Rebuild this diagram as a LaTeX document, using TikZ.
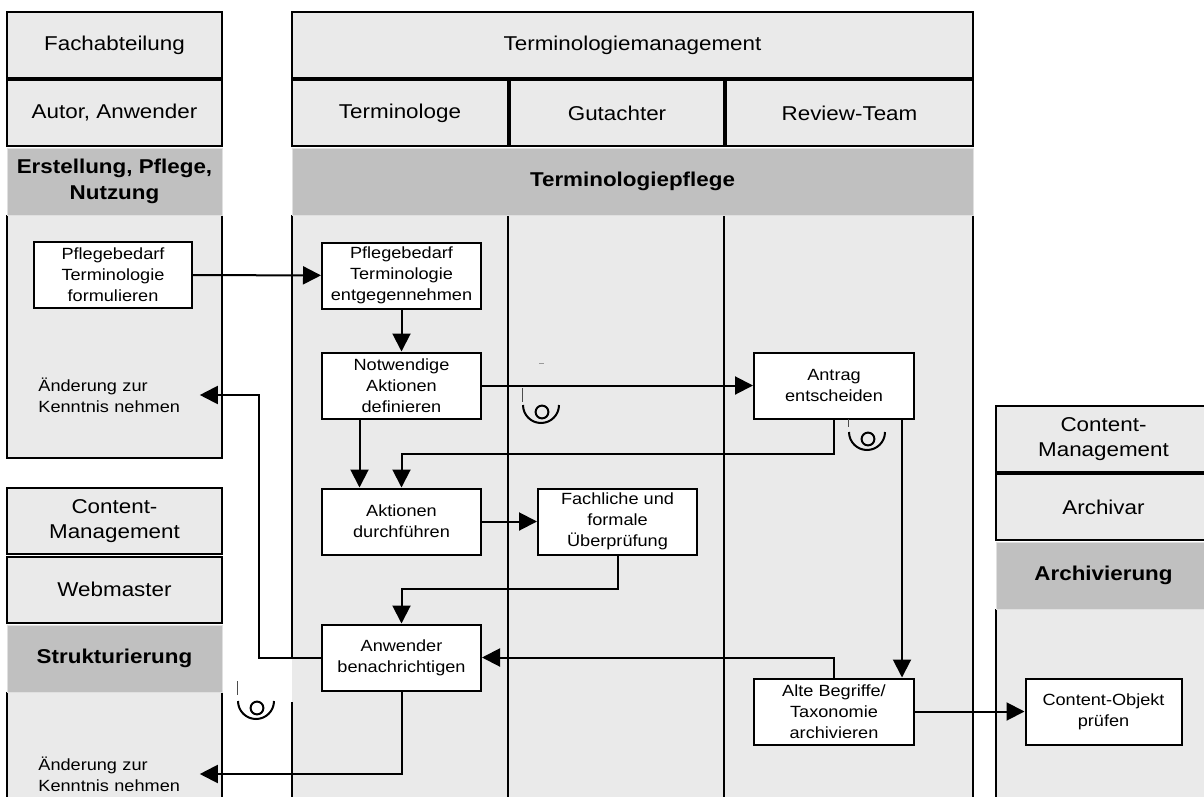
\documentclass[tikz,border=0pt]{standalone}
\usepackage{fontspec}
\setmainfont{Liberation Sans}[FakeStretch=1.12]
\usetikzlibrary{arrows.meta}
\definecolor{laneg}{HTML}{EAEAEA}
\definecolor{headg}{HTML}{C0C0C0}
\newcommand{\lanefont}{\fontsize{10}{12.8}\selectfont}
\newcommand{\taskfont}{\fontsize{8.1}{10.5}\selectfont}

\begin{document}
\begin{tikzpicture}[x=0.5pt, y=-0.5pt, font=\taskfont]
    \tikzset{
      lhead/.style={draw, line width=1pt, fill=laneg, inner sep=0pt,
                    minimum height=33pt, align=center, font=\lanefont},
      dhead/.style={draw=black!12, fill=headg, inner sep=0pt,
                    minimum height=33.5pt, align=center, font=\lanefont\bfseries},
      lane/.style={line width=1pt},
      task/.style={draw, line width=1pt, fill=white, inner sep=0pt,
                   minimum width=79.5pt, minimum height=33pt, align=center},
      note/.style={anchor=west, inner sep=0pt, text width=80.5pt, align=left},
      flow/.style={line width=1pt, -{Triangle[length=9pt, width=9pt]}},
      evt/.style={line width=1pt},
    }
    \useasboundingbox (0,0) rectangle (1204,797);
    \clip (0,0) rectangle (1204,797);
    \fill[white] (0,0) rectangle (1204,797);

    \fill[laneg] (7,215) rectangle (222,458);
    \draw[lane] (7,215) -- (7,458) -- (222,458) -- (222,215);
    \fill[laneg] (292,215) rectangle (973,805);
    \draw[lane] (292,215) -- (292,657);
    \draw[lane] (292,702) -- (292,805);
    \foreach \x in {508,724,973}
      \draw[lane] (\x,215) -- (\x,805);
    \fill[laneg] (7,692) rectangle (222,805);
    \draw[lane] (7,692) -- (7,805);
    \draw[lane] (222,692) -- (222,805);
    \fill[laneg] (996,609) rectangle (1215,805);
    \draw[lane] (996,609) -- (996,805);

    \node[lhead, minimum width=107.5pt] (fa) at (114.5,45) {Fachabteilung};
    \node[lhead, minimum width=107.5pt] (au) at (114.5,113) {Autor, Anwender};
    \node[dhead, minimum width=107.5pt] (er) at (114.5,181.5) {Erstellung, Pflege,\\Nutzung};

    \node[lhead, minimum width=340.5pt] (tm) at (632.5,45) {Terminologiemanagement};
    \node[lhead, minimum width=108pt] (te) at (400,113) {Terminologe};
    \node[lhead, minimum width=107pt] (gu) at (617,113) {Gutachter};
    \node[lhead, minimum width=123.5pt] (rt) at (849.5,113) {Review-Team};
    \node[dhead, minimum width=340.5pt] (tp) at (632.5,181.5) {Terminologiepflege};

    \node[lhead, minimum width=107.5pt] (cm) at (114.5,521) {Content-\\Management};
    \node[lhead, minimum width=107.5pt] (wm) at (114.5,589.5) {Webmaster};
    \node[dhead, minimum width=107.5pt] (sk) at (114.5,658.5) {Strukturierung};

    \node[lhead, minimum width=107.5pt] (cn) at (1103.5,439) {Content-\\Management};
    \node[lhead, minimum width=107.5pt] (av) at (1103.5,507) {Archivar};
    \node[dhead, minimum width=107.5pt] (ag) at (1103.5,575.5) {Archivierung};

    \node[task, minimum width=79pt] (pf) at (113,275) {Pflegebedarf\\Terminologie\\formulieren};
    \node[task] (pe) at (401.5,275.5) {Pflegebedarf\\Terminologie\\entgegennehmen};
    \node[task] (nd) at (401.5,385.5) {Notwendige\\Aktionen\\definieren};
    \node[task, minimum width=80pt] (ae) at (834,385.5) {Antrag\\entscheiden};
    \node[task] (ad) at (401.5,521.5) {Aktionen\\durchführen};
    \node[task] (fp) at (617.5,521.5) {Fachliche und\\formale\\Überprüfung};
    \node[task] (ab) at (401.5,657.5) {Anwender\\benachrichtigen};
    \node[task, minimum width=80pt] (al) at (834,711.5) {Alte Begriffe/\\Taxonomie\\archivieren};
    \node[task, minimum width=78pt] (co) at (1103.5,711.5) {Content-Objekt\\prüfen};

    \node[note] (n1) at (38,395) {Änderung zur\\Kenntnis nehmen};
    \node[note] (n2) at (38,774) {Änderung zur\\Kenntnis nehmen};

    \draw[flow] (pf) -- (pe);
    \draw[flow] (pe) -- (nd);
    \draw[flow] (nd) -- (ae);
    \draw[flow] ([xshift=-21pt]nd.south) -- ([xshift=-21pt]ad.north);
    \draw[flow] (ae.south) -- ++(0,34) -| (ad.north);
    \draw[flow] (ad) -- (fp);
    \draw[flow] (fp.south) -- ++(0,33) -| (ab.north);
    \draw[flow] ([xshift=34pt]ae.south) -- ([xshift=34pt]al.north);
    \draw[flow] (al.north) |- (ab.east);
    \draw[flow] (ab.west) -| ([xshift=29.5pt]n1.east) -- (n1.east);
    \draw[flow] (ab.south) |- (n2.east);
    \draw[flow] (al) -- (co);

    \foreach \cx/\cy/\ta/\tb in {541/405/388/402, 867/432/419/427, 256/701/681/695} {
      \draw[black!70, line width=0.5pt] (\cx-19,\ta) -- (\cx-19,\tb);
      \draw[evt] (\cx-18,\cy) arc[start angle=180, end angle=360, radius=9pt];
      \draw[evt] (\cx+1,\cy+7) circle[radius=3.2pt];
    }
    \draw[black!40, line width=0.5pt] (539,363) -- (544,363);
  \end{tikzpicture}
\end{document}
